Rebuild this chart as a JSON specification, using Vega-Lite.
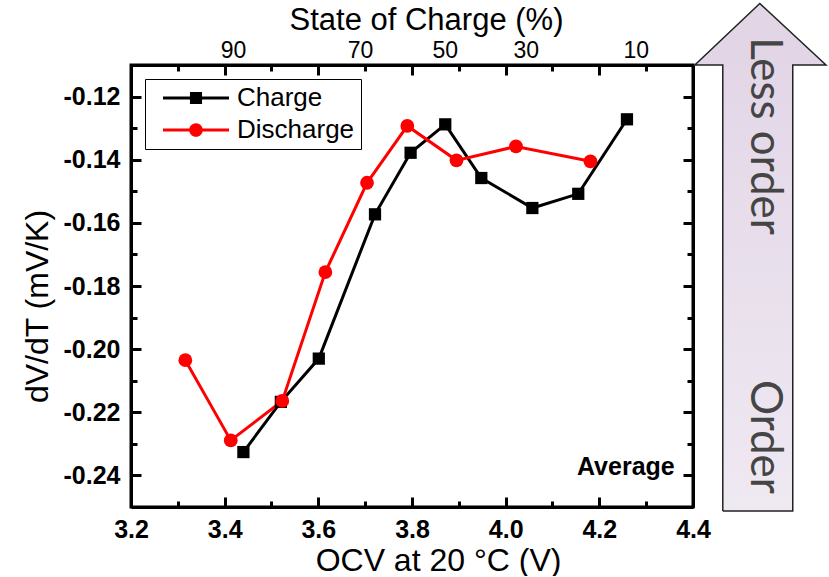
{
  "$schema": "https://vega.github.io/schema/vega-lite/v6.json",
  "width": 562,
  "height": 442,
  "padding": {"left": 21, "top": 0, "right": 0, "bottom": 0},
  "background": "white",
  "config": {
    "view": {"stroke": "black", "strokeWidth": 3},
    "axis": {
      "grid": false,
      "domainColor": "black",
      "domainWidth": 3,
      "tickColor": "black",
      "tickWidth": 3,
      "labelFont": "Liberation Sans",
      "labelFontSize": 25,
      "labelFontWeight": "bold",
      "labelColor": "black",
      "labelFlush": false,
      "labelOverlap": false,
      "titleFont": "Liberation Sans",
      "titleFontSize": 32,
      "titleFontWeight": "normal",
      "titleColor": "black"
    }
  },
  "datasets": {
    "curves": [
      {"series": "Charge", "v": 3.440, "d": -0.2326},
      {"series": "Charge", "v": 3.520, "d": -0.2167},
      {"series": "Charge", "v": 3.601, "d": -0.2030},
      {"series": "Charge", "v": 3.721, "d": -0.1573},
      {"series": "Charge", "v": 3.797, "d": -0.1378},
      {"series": "Charge", "v": 3.871, "d": -0.1288},
      {"series": "Charge", "v": 3.948, "d": -0.1458},
      {"series": "Charge", "v": 4.057, "d": -0.1553},
      {"series": "Charge", "v": 4.155, "d": -0.1508},
      {"series": "Charge", "v": 4.259, "d": -0.1272},
      {"series": "Discharge", "v": 3.316, "d": -0.2035},
      {"series": "Discharge", "v": 3.413, "d": -0.2289},
      {"series": "Discharge", "v": 3.523, "d": -0.2164},
      {"series": "Discharge", "v": 3.615, "d": -0.1756},
      {"series": "Discharge", "v": 3.704, "d": -0.1473},
      {"series": "Discharge", "v": 3.790, "d": -0.1293},
      {"series": "Discharge", "v": 3.895, "d": -0.1402},
      {"series": "Discharge", "v": 4.022, "d": -0.1358},
      {"series": "Discharge", "v": 4.181, "d": -0.1405}
    ],
    "arrowBody": [
      {"v": 4.4636, "v2": 4.613, "d": -0.11, "d2": -0.2513}
    ],
    "arrowHead": [
      {"v": 4.404, "d": -0.11, "d2": -0.11},
      {"v": 4.5426, "d": -0.0905, "d2": -0.11},
      {"v": 4.684, "d": -0.11, "d2": -0.11}
    ],
    "arrowOutline": [
      {"step": 1, "v": 4.4636, "d": -0.2513},
      {"step": 2, "v": 4.4636, "d": -0.11},
      {"step": 3, "v": 4.404, "d": -0.11},
      {"step": 4, "v": 4.5426, "d": -0.0905},
      {"step": 5, "v": 4.684, "d": -0.11},
      {"step": 6, "v": 4.613, "d": -0.11},
      {"step": 7, "v": 4.613, "d": -0.2513},
      {"step": 8, "v": 4.4636, "d": -0.2513}
    ],
    "arrowText": [
      {"label": "Less order", "v": 4.551, "d": -0.1325},
      {"label": "Order", "v": 4.551, "d": -0.2278}
    ],
    "notes": [
      {"label": "Average", "v": 4.361, "d": -0.2398}
    ]
  },
  "layer": [
    {
      "data": {"name": "arrowBody"},
      "mark": {
        "type": "rect", "clip": false,
        "fill": {"gradient": "linear", "x1": 0, "y1": 0, "x2": 0, "y2": 1, "stops": [{"offset": 0, "color": "#e3d7e7"}, {"offset": 1, "color": "#efe9f2"}]}
      },
      "encoding": {
        "x": {"field": "v", "type": "quantitative", "scale": {"domain": [3.2, 4.4], "nice": false, "zero": false}, "axis": null},
        "x2": {"field": "v2"},
        "y": {"field": "d", "type": "quantitative", "scale": {"domain": [-0.25, -0.11], "nice": false, "zero": false}, "axis": null},
        "y2": {"field": "d2"}
      }
    },
    {
      "data": {"name": "arrowHead"},
      "mark": {"type": "area", "fill": "#e2d6e6", "clip": false, "orient": "vertical"},
      "encoding": {
        "x": {"field": "v", "type": "quantitative", "scale": {"domain": [3.2, 4.4], "nice": false, "zero": false}, "axis": null},
        "y": {"field": "d", "type": "quantitative", "scale": {"domain": [-0.25, -0.11], "nice": false, "zero": false}, "axis": null},
        "y2": {"field": "d2"}
      }
    },
    {
      "data": {"name": "arrowOutline"},
      "mark": {"type": "line", "stroke": "#222222", "strokeWidth": 1.5, "clip": false},
      "encoding": {
        "x": {"field": "v", "type": "quantitative", "scale": {"domain": [3.2, 4.4], "nice": false, "zero": false}, "axis": null},
        "y": {"field": "d", "type": "quantitative", "scale": {"domain": [-0.25, -0.11], "nice": false, "zero": false}, "axis": null},
        "order": {"field": "step", "type": "quantitative"}
      }
    },
    {
      "data": {"name": "arrowText"},
      "mark": {"type": "text", "angle": 90, "align": "center", "baseline": "middle", "font": "Lato", "fontSize": 44, "color": "#454545", "clip": false},
      "encoding": {
        "x": {"field": "v", "type": "quantitative", "scale": {"domain": [3.2, 4.4], "nice": false, "zero": false}, "axis": null},
        "y": {"field": "d", "type": "quantitative", "scale": {"domain": [-0.25, -0.11], "nice": false, "zero": false}, "axis": null},
        "text": {"field": "label"}
      }
    },
    {
      "data": {"name": "curves"},
      "transform": [{"filter": "datum.series == 'Charge'"}],
      "mark": {"type": "line", "strokeWidth": 3, "color": "#000000"},
      "encoding": {
        "x": {
          "field": "v", "type": "quantitative",
          "scale": {"domain": [3.2, 4.4], "nice": false, "zero": false},
          "axis": {
            "orient": "bottom",
            "title": "OCV at 20 \u00b0C (V)",
            "titleX": 307,
            "values": [3.2, 3.3, 3.4, 3.5, 3.6, 3.7, 3.8, 3.9, 4.0, 4.1, 4.2, 4.3, 4.4],
            "tickSize": {"condition": {"test": "round(datum.value*10) % 2 == 0", "value": -10}, "value": -6},
            "labelExpr": "round(datum.value*10) % 2 == 0 ? format(datum.value, '.1f') : ''",
            "labelPadding": 20,
            "titlePadding": -1
          }
        },
        "y": {
          "field": "d", "type": "quantitative",
          "scale": {"domain": [-0.25, -0.11], "nice": false, "zero": false},
          "axis": {
            "orient": "left",
            "title": "dV/dT (mV/K)",
            "titleY": 241,
            "values": [-0.24, -0.23, -0.22, -0.21, -0.2, -0.19, -0.18, -0.17, -0.16, -0.15, -0.14, -0.13, -0.12],
            "tickSize": {"condition": {"test": "round(datum.value*100) % 2 == 0", "value": -10}, "value": -6},
            "labelExpr": "round(datum.value*100) % 2 == 0 ? replace(format(datum.value, '.2f'), '\u2212', '-') : ''",
            "labelPadding": 21,
            "titlePadding": 9
          }
        }
      }
    },
    {
      "data": {"name": "curves"},
      "transform": [{"filter": "datum.series == 'Discharge'"}],
      "mark": {"type": "line", "strokeWidth": 3, "color": "#ff0000"},
      "encoding": {
        "x": {"field": "v", "type": "quantitative", "scale": {"domain": [3.2, 4.4], "nice": false, "zero": false}, "axis": null},
        "y": {"field": "d", "type": "quantitative", "scale": {"domain": [-0.25, -0.11], "nice": false, "zero": false}, "axis": null}
      }
    },
    {
      "data": {"name": "curves"},
      "transform": [{"filter": "datum.series == 'Charge'"}],
      "mark": {"type": "point", "shape": "square", "filled": true, "size": 150, "opacity": 1, "color": "#000000"},
      "encoding": {
        "x": {
          "field": "v", "type": "quantitative",
          "scale": {"domain": [3.2, 4.4], "nice": false, "zero": false},
          "axis": {
            "orient": "top",
            "title": "State of Charge (%)",
            "titleX": 295,
            "titleY": -36,
            "titleBaseline": "alphabetic",
            "titleFontSize": 31,
            "values": [3.3, 3.4, 3.5, 3.6, 3.7, 3.8, 3.9, 4.0, 4.1, 4.2, 4.3, 3.418, 3.689, 3.87, 4.043, 4.278],
            "tickSize": {"condition": {"test": "abs(datum.value*10 - round(datum.value*10)) < 0.001 && round(datum.value*10) % 2 == 0", "value": -10}, "value": -6},
            "tickOpacity": {"condition": {"test": "indexof([3.418, 3.689, 3.87, 4.043, 4.278], datum.value) >= 0", "value": 0}, "value": 1},
            "labelExpr": "datum.value == 3.418 ? '90' : datum.value == 3.689 ? '70' : datum.value == 3.87 ? '50' : datum.value == 4.043 ? '30' : datum.value == 4.278 ? '10' : ''",
            "labelFontWeight": "normal",
            "labelFontSize": 23,
            "labelPadding": 9,
            "titlePadding": 0
          }
        },
        "y": {
          "field": "d", "type": "quantitative",
          "scale": {"domain": [-0.25, -0.11], "nice": false, "zero": false},
          "axis": {
            "orient": "right",
            "title": null,
            "labels": false,
            "values": [-0.24, -0.23, -0.22, -0.21, -0.2, -0.19, -0.18, -0.17, -0.16, -0.15, -0.14, -0.13, -0.12],
            "tickSize": {"condition": {"test": "round(datum.value*100) % 2 == 0", "value": -10}, "value": -6}
          }
        }
      }
    },
    {
      "data": {"name": "curves"},
      "transform": [{"filter": "datum.series == 'Discharge'"}],
      "mark": {"type": "point", "shape": "circle", "filled": true, "size": 190, "opacity": 1, "color": "#ff0000"},
      "encoding": {
        "x": {"field": "v", "type": "quantitative", "scale": {"domain": [3.2, 4.4], "nice": false, "zero": false}, "axis": null},
        "y": {"field": "d", "type": "quantitative", "scale": {"domain": [-0.25, -0.11], "nice": false, "zero": false}, "axis": null}
      }
    },
    {
      "data": {"name": "curves"},
      "transform": [{"filter": "false"}],
      "mark": {"type": "point", "filled": true, "opacity": 1},
      "encoding": {
        "x": {"field": "v", "type": "quantitative", "scale": {"domain": [3.2, 4.4], "nice": false, "zero": false}, "axis": null},
        "y": {"field": "d", "type": "quantitative", "scale": {"domain": [-0.25, -0.11], "nice": false, "zero": false}, "axis": null},
        "color": {
          "field": "series", "type": "nominal",
          "scale": {"domain": ["Charge", "Discharge"], "range": ["#000000", "#ff0000"]},
          "legend": {"title": null, "orient": "top-left", "offset": 14, "padding": 6, "fillColor": "white", "strokeColor": "black", "labelFont": "Liberation Sans", "labelFontSize": 26, "labelColor": "black", "symbolSize": 484, "symbolOffset": 32, "labelOffset": 28, "rowPadding": 6, "symbolStrokeWidth": 0, "symbolOpacity": 1}
        },
        "shape": {
          "field": "series", "type": "nominal",
          "scale": {"domain": ["Charge", "Discharge"], "range": ["M-3,-0.14H3V0.14H-3ZM-0.55,-0.55H0.55V0.55H-0.55Z", "M-3,-0.14H3V0.14H-3ZM0.62,0A0.62,0.62,0,1,1,-0.62,0A0.62,0.62,0,1,1,0.62,0Z"]},
          "legend": {"title": null, "orient": "top-left", "offset": 14, "padding": 6, "fillColor": "white", "strokeColor": "black", "labelFont": "Liberation Sans", "labelFontSize": 26, "labelColor": "black", "symbolSize": 484, "symbolOffset": 32, "labelOffset": 28, "rowPadding": 6, "symbolStrokeWidth": 0, "symbolOpacity": 1}
        }
      }
    },
    {
      "data": {"name": "notes"},
      "mark": {"type": "text", "align": "right", "baseline": "alphabetic", "font": "Liberation Sans", "fontSize": 25, "fontWeight": "bold", "color": "black"},
      "encoding": {
        "x": {"field": "v", "type": "quantitative", "scale": {"domain": [3.2, 4.4], "nice": false, "zero": false}, "axis": null},
        "y": {"field": "d", "type": "quantitative", "scale": {"domain": [-0.25, -0.11], "nice": false, "zero": false}, "axis": null},
        "text": {"field": "label"}
      }
    }
  ],
  "resolve": {"axis": {"x": "independent", "y": "independent"}}
}
